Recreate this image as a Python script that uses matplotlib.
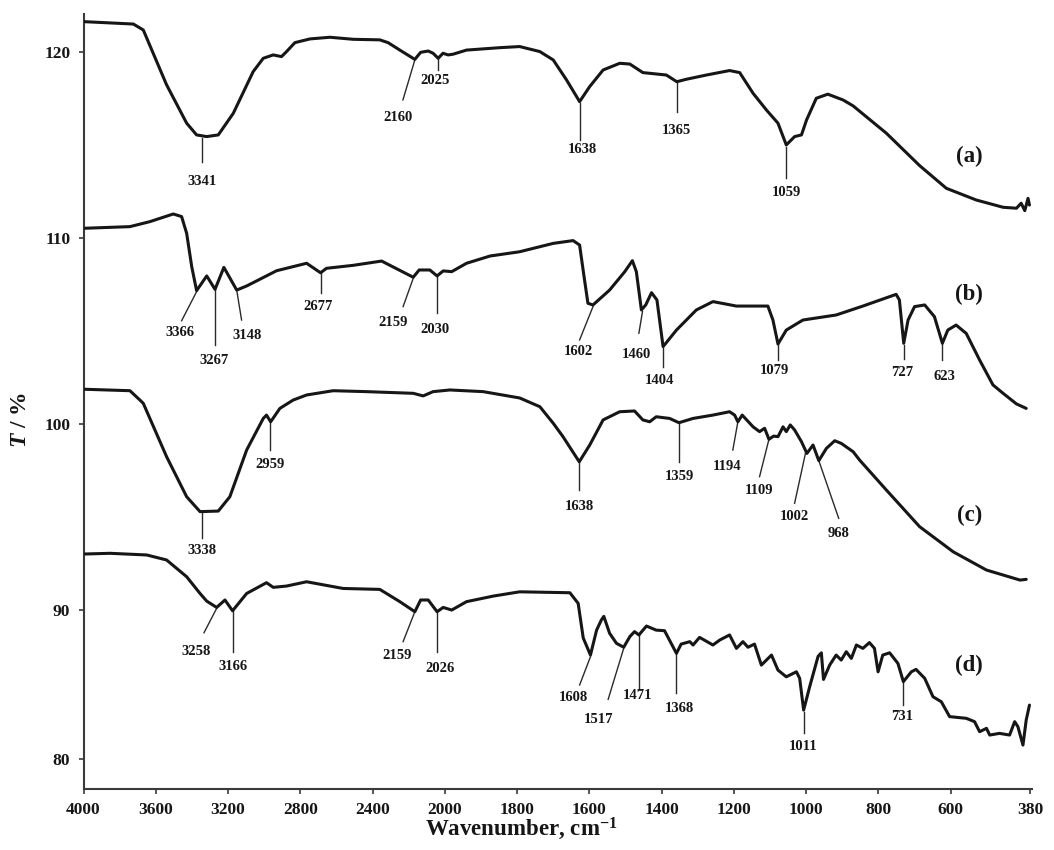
import numpy as np
import matplotlib
matplotlib.use("Agg")
import matplotlib.pyplot as plt

plt.rcParams['font.family'] = ['Liberation Serif', 'DejaVu Serif']
plt.rcParams['font.weight'] = 'bold'
plt.rcParams['mathtext.fontset'] = 'custom'
plt.rcParams['mathtext.rm'] = 'Liberation Serif:bold'
plt.rcParams['mathtext.it'] = 'Liberation Serif:italic:bold'
plt.rcParams['mathtext.bf'] = 'Liberation Serif:bold'

# ---------------- data ----------------
wn_a = [4000, 3724, 3669, 3540, 3429, 3374, 3318, 3254, 3171, 3061, 3005, 2950, 2904, 2876, 2830, 2747,
        2636, 2507, 2360, 2314, 2249, 2166, 2134, 2092, 2065, 2037, 2010, 1991, 1977, 1940, 1848, 1793,
        1737, 1700, 1663, 1627, 1599, 1562, 1516, 1488, 1452, 1387, 1358, 1332, 1276, 1212, 1184, 1147,
        1110, 1078, 1055, 1032, 1013, 999, 972, 940, 898, 870, 778, 686, 612, 529, 455, 418, 405, 395,
        386, 382]
T_a = [121.63, 121.5, 121.18, 118.23, 116.17, 115.54, 115.45, 115.54, 116.7, 118.94, 119.66, 119.84,
       119.75, 120.02, 120.5, 120.7, 120.79, 120.68, 120.65, 120.5, 120.1, 119.6, 119.98, 120.05, 119.93,
       119.66, 119.93, 119.84, 119.88, 120.1, 120.23, 120.29, 120.02, 119.57, 118.49, 117.33, 118.14,
       119.03, 119.39, 119.35, 118.89, 118.76, 118.4, 118.53, 118.76, 119.0, 118.89, 117.78, 116.88,
       116.17, 115.0, 115.45, 115.54, 116.34, 117.51, 117.73, 117.42, 117.1, 115.63, 113.89, 112.67,
       112.04, 111.65, 111.6, 111.87, 111.47, 112.13, 111.77]

wn_b = [4000, 3743, 3632, 3503, 3457, 3429, 3401, 3374, 3318, 3272, 3223, 3152, 3097, 2931, 2765, 2688,
        2655, 2507, 2350, 2175, 2142, 2083, 2043, 2009, 1981, 1940, 1875, 1793, 1700, 1645, 1627, 1616,
        1604, 1590, 1544, 1502, 1481, 1470, 1456, 1444, 1428, 1413, 1396, 1359, 1304, 1258, 1193, 1106,
        1092, 1078, 1055, 1009, 917, 843, 751, 742, 730, 718, 700, 672, 645, 623, 608, 585, 557, 520,
        483, 455, 418, 391]
T_b = [110.52, 110.61, 110.88, 111.29, 111.15, 110.25, 108.46, 107.17, 107.96, 107.24, 108.42, 107.2,
       107.42, 108.24, 108.64, 108.13, 108.37, 108.53, 108.76, 107.89, 108.28, 108.28, 107.96, 108.23,
       108.19, 108.64, 109.03, 109.26, 109.71, 109.86, 109.62, 108.1, 106.49, 106.4, 107.2, 108.19,
       108.78, 108.19, 106.13, 106.4, 107.06, 106.67, 104.16, 105.05, 106.13, 106.58, 106.34, 106.34,
       105.59, 104.3, 105.05, 105.59, 105.86, 106.34, 106.97, 106.67, 104.34, 105.59, 106.31, 106.4,
       105.77, 104.34, 105.05, 105.32, 104.87, 103.44, 102.1, 101.65, 101.08, 100.84]

wn_c = [4000, 3743, 3688, 3669, 3540, 3429, 3355, 3254, 3190, 3097, 3005, 2987, 2964, 2913, 2839, 2765,
        2618, 2433, 2175, 2120, 2065, 1986, 1894, 1793, 1737, 1700, 1673, 1628, 1599, 1562, 1516, 1475,
        1452, 1433, 1415, 1378, 1352, 1313, 1258, 1212, 1198, 1189, 1177, 1147, 1129, 1115, 1103, 1090,
        1078, 1064, 1055, 1044, 1032, 1013, 998, 981, 965, 944, 921, 903, 870, 852, 778, 686, 593, 501,
        408, 391]
T_c = [101.87, 101.79, 101.29, 101.11, 98.24, 96.09, 95.29, 95.32, 96.09, 98.6, 100.3, 100.48, 100.12,
       100.84, 101.29, 101.56, 101.79, 101.74, 101.65, 101.51, 101.74, 101.83, 101.74, 101.4, 100.93,
       100.04, 99.32, 97.97, 98.87, 100.22, 100.66, 100.7, 100.22, 100.12, 100.39, 100.3, 100.07, 100.3,
       100.48, 100.66, 100.48, 100.12, 100.48, 99.85, 99.59, 99.77, 99.18, 99.35, 99.32, 99.85, 99.59,
       99.95, 99.68, 99.05, 98.42, 98.87, 98.03, 98.69, 99.1, 98.96, 98.51, 98.06, 96.45, 94.48, 93.13,
       92.15, 91.61, 91.65]

wn_d = [4000, 3853, 3650, 3540, 3429, 3355, 3318, 3263, 3217, 3175, 3097, 2987, 2950, 2876, 2765, 2563,
        2360, 2249, 2166, 2134, 2092, 2043, 2009, 1981, 1940, 1866, 1793, 1654, 1631, 1617, 1597, 1580,
        1567, 1560, 1544, 1525, 1505, 1488, 1475, 1463, 1442, 1415, 1392, 1359, 1346, 1322, 1313, 1295,
        1258, 1239, 1212, 1193, 1175, 1161, 1143, 1124, 1096, 1078, 1055, 1027, 1018, 1007, 990, 967,
        958, 952, 935, 917, 903, 889, 875, 861, 843, 825, 811, 801, 788, 769, 746, 731, 709, 696, 672,
        649, 626, 603, 557, 534, 520, 501, 492, 465, 437, 423, 414, 400, 391, 382]
T_d = [93.01, 93.05, 92.96, 92.69, 91.79, 90.89, 90.48, 90.14, 90.54, 89.96, 90.89, 91.47, 91.22, 91.29,
       91.52, 91.16, 91.11, 90.45, 89.91, 90.54, 90.54, 89.91, 90.14, 90.0, 90.45, 90.75, 90.98, 90.93,
       90.36, 88.5, 87.58, 88.92, 89.46, 89.66, 88.75, 88.21, 88.0, 88.57, 88.84, 88.66, 89.14, 88.92,
       88.89, 87.67, 88.17, 88.3, 88.12, 88.53, 88.12, 88.39, 88.66, 87.94, 88.3, 88.0, 88.17, 87.04,
       87.58, 86.77, 86.41, 86.68, 86.33, 84.62, 85.9, 87.51, 87.7, 86.27, 87.04, 87.58, 87.31, 87.76,
       87.4, 88.12, 87.94, 88.25, 87.94, 86.68, 87.58, 87.7, 87.13, 86.15, 86.68, 86.81, 86.33, 85.34,
       85.07, 84.27, 84.18, 84.0, 83.46, 83.64, 83.28, 83.37, 83.28, 84.0, 83.73, 82.74, 84.09, 84.89]

# peak annotations: label, leader line start (x, y), leader line end (x, y), text centre (x, y)
peaks_a = [('3341', 3344, 115.38, 3344, 114.09, 3344, 113.06),
           ('2160', 2166, 119.57, 2232, 117.42, 2260, 116.45),
           ('2025', 2037, 119.68, 2037, 119.03, 2054, 118.44),
           ('1638', 1627, 117.26, 1627, 115.27, 1618, 114.73),
           ('1365', 1358, 118.39, 1358, 116.77, 1358, 115.80),
           ('1059', 1055, 114.90, 1055, 113.23, 1055, 112.47)]
peaks_b = [('3366', 3371, 107.17, 3457, 105.55, 3466, 104.90),
           ('3267', 3272, 107.24, 3272, 104.25, 3278, 103.44),
           ('3148', 3152, 107.20, 3125, 105.59, 3097, 104.78),
           ('2677', 2688, 108.13, 2688, 107.03, 2701, 106.31),
           ('2159', 2175, 107.83, 2231, 106.31, 2286, 105.45),
           ('2030', 2043, 107.96, 2043, 105.95, 2055, 105.09),
           ('1602', 1590, 106.31, 1627, 104.52, 1629, 103.89),
           ('1460', 1453, 106.04, 1463, 104.88, 1470, 103.76),
           ('1404', 1396, 104.07, 1396, 103.08, 1405, 102.33),
           ('1079', 1078, 104.25, 1078, 103.44, 1087, 102.87),
           ('727', 729, 104.25, 729, 103.48, 733, 102.76),
           ('623', 623, 104.30, 623, 103.44, 617, 102.58)]
peaks_c = [('3338', 3344, 95.20, 3344, 93.85, 3344, 93.19),
           ('2959', 2968, 100.12, 2968, 98.60, 2968, 97.85),
           ('1638', 1628, 97.97, 1628, 96.45, 1628, 95.59),
           ('1359', 1352, 100.07, 1352, 97.97, 1352, 97.20),
           ('1194', 1189, 100.12, 1203, 98.60, 1219, 97.70),
           ('1109', 1103, 99.18, 1129, 97.17, 1131, 96.41),
           ('1002', 1002, 98.42, 1032, 95.74, 1032, 95.02),
           ('968', 965, 98.03, 910, 94.93, 910, 94.09)]
peaks_d = [('3258', 3263, 90.09, 3333, 88.78, 3374, 87.76),
           ('3166', 3175, 89.96, 3175, 87.76, 3171, 86.95),
           ('2159', 2166, 89.91, 2231, 88.30, 2262, 87.53),
           ('2026', 2043, 89.91, 2043, 87.76, 2024, 86.87),
           ('1608', 1597, 87.49, 1627, 85.97, 1645, 85.30),
           ('1517', 1505, 87.94, 1548, 85.20, 1575, 84.12),
           ('1471', 1463, 88.66, 1463, 85.79, 1468, 85.43),
           ('1368', 1359, 87.67, 1359, 85.52, 1352, 84.72),
           ('1011', 1007, 84.53, 1007, 83.40, 1009, 82.69),
           ('731', 731, 86.15, 731, 84.89, 735, 84.26)]

series_labels = ['(a)', '(b)', '(c)', '(d)']
series_label_x = [549, 549, 549, 549]
series_label_y = [114.37, 106.94, 95.11, 87.04]

xtick_values = [4000, 3600, 3200, 2800, 2400, 2000, 1800, 1600, 1400, 1200, 1000, 800, 600, 380]
ytick_labels = ['80', '90', '100', '110', '120']
ytick_pos = [82.0, 90, 100, 110, 120]

# ---------------- figure ----------------
W, H = 1054, 850
fig = plt.figure(figsize=(W / 100, H / 100), dpi=100)
ax = fig.add_axes([83.5 / W, (H - 789) / H, 948.5 / W, 775 / H])


def fwd(x):
    x = np.asarray(x, dtype=float)
    return np.where(x >= 2000, 2000 + (x - 2000) / 2.0, x)


def inv(y):
    y = np.asarray(y, dtype=float)
    return np.where(y >= 2000, 2000 + (y - 2000) * 2.0, y)


ax.set_xscale('function', functions=(fwd, inv))

ink = '#161616'
for wn, T in [(wn_a, T_a), (wn_b, T_b), (wn_c, T_c), (wn_d, T_d)]:
    ax.plot(wn, T, color=ink, lw=2.2, solid_joinstyle='round', solid_capstyle='round', zorder=3)

for peaks in [peaks_a, peaks_b, peaks_c, peaks_d]:
    for lab, x0, y0, x1, y1, tx, ty in peaks:
        ax.plot([x0, x1], [y0, y1], color='#2a2a2a', lw=1.0, zorder=2)
        ax.text(tx, ty, lab, ha='center', va='center', fontsize=10.5, fontweight='bold', color=ink)

for lab, sx, sy in zip(series_labels, series_label_x, series_label_y):
    ax.text(sx, sy, lab, ha='center', va='center', fontsize=16.5, fontweight='bold', color=ink)

ax.set_xlim(4000, 375)
ax.set_ylim(80.38, 122.04)
ax.set_xticks(xtick_values)
ax.set_xticklabels([str(v) for v in xtick_values])
ax.set_yticks(ytick_pos)
ax.set_yticklabels(ytick_labels)
ax.minorticks_off()

for s in ['top', 'right']:
    ax.spines[s].set_visible(False)
for s in ['left', 'bottom']:
    ax.spines[s].set_linewidth(1.5)
    ax.spines[s].set_color('#3a3a3a')
ax.tick_params(axis='both', direction='out', length=3.5, width=1.2, color='#3a3a3a',
               labelsize=12.5, labelcolor=ink, pad=6)
for lbl in ax.get_xticklabels() + ax.get_yticklabels():
    lbl.set_fontweight('bold')

ax.set_xlabel('Wavenumber, cm$^{-1}$', fontsize=16.5, fontweight='bold', color=ink)
ax.xaxis.set_label_coords(0.462, -0.035)
ax.set_ylabel('$T$ / %', fontsize=17, fontweight='bold', color=ink)
ax.yaxis.set_label_coords(-0.055, 0.476)

fig.savefig('out.png', dpi=100, facecolor='white')
